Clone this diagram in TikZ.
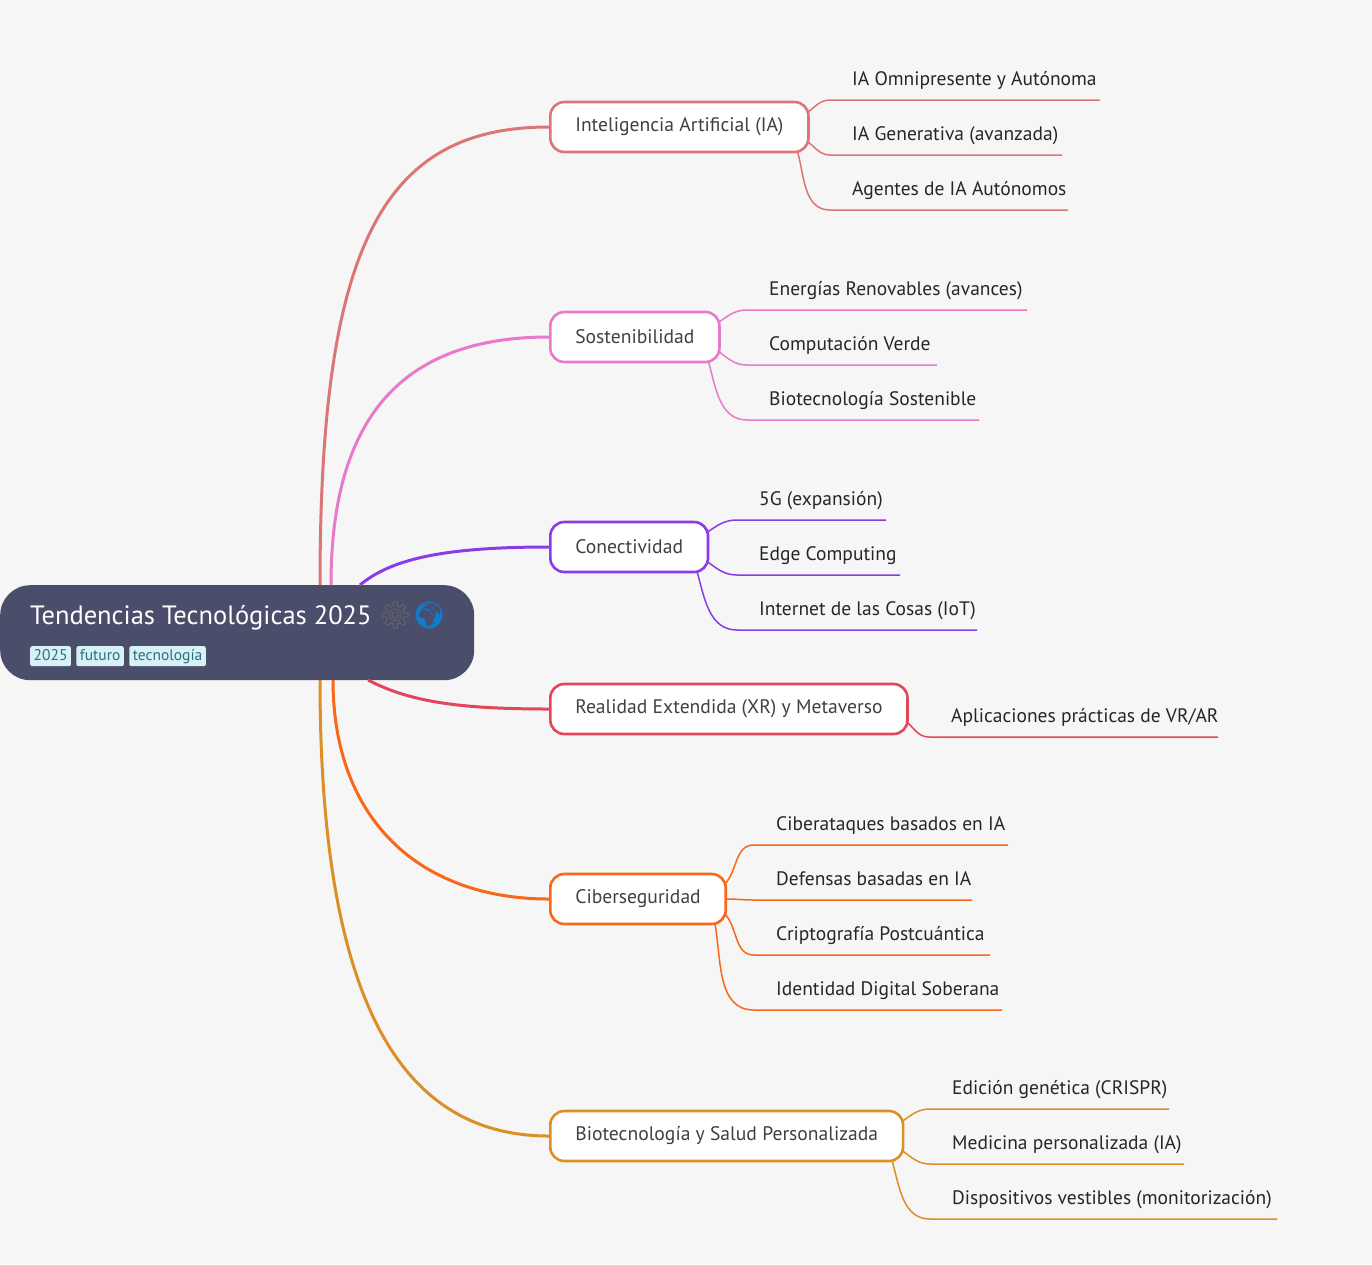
\documentclass[tikz,border=0pt]{standalone}
\usepackage{fontspec}
\setmainfont{PT Sans}
\newfontfamily\emojifont{Noto Emoji}
\usetikzlibrary{positioning}

\definecolor{bgc}{HTML}{F6F6F6}
\definecolor{rootc}{HTML}{4B4E6B}
\definecolor{tagc}{HTML}{D6F1F8}
\definecolor{tagtxt}{HTML}{2E6E80}
\definecolor{iac}{HTML}{DB7676}
\definecolor{sosc}{HTML}{E879CB}
\definecolor{conc}{HTML}{8B3BE8}
\definecolor{xrc}{HTML}{E2465A}
\definecolor{cibc}{HTML}{F9681A}
\definecolor{bioc}{HTML}{DC8F26}

\begin{document}
\begin{tikzpicture}[
    x=1pt, y=-1pt,
    branch/.style={draw=#1, line width=2.6pt, fill=white, rounded corners=14pt,
        minimum height=50pt, inner xsep=25pt, anchor=west, font=\fontsize{19.6}{22}\selectfont,
        text=black!75},
    link/.style={draw=#1, line width=3pt},
    leafline/.style={draw=#1, line width=1.5pt},
    leaf/.style={anchor=base west, inner sep=0pt, font=\fontsize{19.5}{22}\selectfont, text=black!85},
    tag/.style={fill=tagc, text=tagtxt, rounded corners=2pt, inner xsep=3.5pt, inner ysep=2.5pt,
        text height=11.5pt, text depth=3.5pt, font=\fontsize{15.5}{17}\selectfont}
]
\fill[bgc] (0,0) rectangle (1372,1264);
\useasboundingbox (0,0) rectangle (1372,1264);

% === Root ===
\node[fill=rootc, rounded corners=30pt, minimum width=474pt, minimum height=95pt, anchor=north west]
    (root) at (0,585) {};
\node[anchor=base west, inner sep=0pt, text=white, font=\fontsize{26.5}{30}\selectfont]
    (title) at (30,624) {Tendencias Tecnológicas 2025 {\emojifont\textcolor{black!60}{⚙}\textcolor{cyan!60!blue}{🌍}}};
\node[tag, anchor=north west] (t2025) at (30,646) {2025};
\node[tag, right=5pt of t2025] (tfuturo) {futuro};
\node[tag, right=5pt of tfuturo] (ttec) {tecnología};

% === Branches ===
\node[branch=iac] (ia) at (549,127) {Inteligencia Artificial (IA)};
\node[branch=sosc] (sos) at (549,337) {Sostenibilidad};
\node[branch=conc] (con) at (549,547) {Conectividad};
\node[branch=xrc] (xr) at (549,709) {Realidad Extendida (XR) y Metaverso};
\node[branch=cibc] (cib) at (549,899) {Ciberseguridad};
\node[branch=bioc] (bio) at (549,1136) {Biotecnología y Salud Personalizada};

% === Root links ===
\draw[link=iac] (320,585) .. controls (320,250) and (380,127) .. (ia.west);
\draw[link=sosc] (331,585) .. controls (331,420) and (400,337) .. (sos.west);
\draw[link=conc] (360,585) .. controls (390,560) and (440,547) .. (con.west);
\draw[link=xrc] (368,680) .. controls (410,702) and (460,709) .. (xr.west);
\draw[link=cibc] (333,680) .. controls (333,820) and (420,899) .. (cib.west);
\draw[link=bioc] (320,680) .. controls (320,1000) and (400,1136) .. (bio.west);

% === Leaves ===
\foreach \y/\e/\t [count=\i] in {100/1100/{IA Omnipresente y Autónoma}, 155/1062/{IA Generativa (avanzada)}, 210/1068/{Agentes de IA Autónomos}}{
    \node[leaf] (ia-\i) at (852,\y-15) {\t};
    \coordinate (ia-s\i) at (830,\y);
}
\draw[leafline=iac] (ia.east) ++(-3,-14) to[out=35, in=180] (ia-s1) -- (1100,100);
\draw[leafline=iac] (ia.east) ++(-3,14) to[out=-35, in=180] (ia-s2) -- (1062,155);
\draw[leafline=iac] (ia.south east) ++(-12,-1) to[out=-75, in=180] (ia-s3) -- (1068,210);

\foreach \y/\e/\t [count=\i] in {310/1027/{Energías Renovables (avances)}, 365/937/{Computación Verde}, 420/979/{Biotecnología Sostenible}}{
    \node[leaf] (sos-\i) at (769,\y-15) {\t};
    \coordinate (sos-s\i) at (747,\y);
}
\draw[leafline=sosc] (sos.east) ++(-3,-14) to[out=35, in=180] (sos-s1) -- (1027,310);
\draw[leafline=sosc] (sos.east) ++(-3,14) to[out=-35, in=180] (sos-s2) -- (937,365);
\draw[leafline=sosc] (sos.south east) ++(-12,-1) to[out=-75, in=180] (sos-s3) -- (979,420);

\foreach \y/\e/\t [count=\i] in {520/886/{5G (expansión)}, 575/900/{Edge Computing}, 630/977/{Internet de las Cosas (IoT)}}{
    \node[leaf] (con-\i) at (759,\y-15) {\t};
    \coordinate (con-s\i) at (737,\y);
}
\draw[leafline=conc] (con.east) ++(-3,-14) to[out=35, in=180] (con-s1) -- (886,520);
\draw[leafline=conc] (con.east) ++(-3,14) to[out=-35, in=180] (con-s2) -- (900,575);
\draw[leafline=conc] (con.south east) ++(-12,-1) to[out=-75, in=180] (con-s3) -- (977,630);

\node[leaf] (xr-1) at (951,722) {Aplicaciones prácticas de VR/AR};
\coordinate (xr-s1) at (929,737);
\draw[leafline=xrc] (xr.east) ++(-3,12) to[out=-40, in=180] (xr-s1) -- (1218,737);

\foreach \y/\e/\t [count=\i] in {845/1008/{Ciberataques basados en IA}, 900/972/{Defensas basadas en IA}, 955/990/{Criptografía Postcuántica}, 1010/1002/{Identidad Digital Soberana}}{
    \node[leaf] (cib-\i) at (776,\y-15) {\t};
    \coordinate (cib-s\i) at (754,\y);
    \coordinate (cib-e\i) at (\e,\y);
}
\draw[leafline=cibc] (cib.east) ++(-3,-14) to[out=45, in=180] (cib-s1) -- (cib-e1);
\draw[leafline=cibc] (cib.east) ++(0,0) to[out=0, in=180] (cib-s2) -- (cib-e2);
\draw[leafline=cibc] (cib.east) ++(-3,14) to[out=-45, in=180] (cib-s3) -- (cib-e3);
\draw[leafline=cibc] (cib.south east) ++(-12,-1) to[out=-80, in=180] (cib-s4) -- (cib-e4);

\foreach \y/\e/\t [count=\i] in {1109/1169/{Edición genética (CRISPR)}, 1164/1184/{Medicina personalizada (IA)}, 1219/1277/{Dispositivos vestibles (monitorización)}}{
    \node[leaf] (bio-\i) at (952,\y-15) {\t};
    \coordinate (bio-s\i) at (930,\y);
}
\draw[leafline=bioc] (bio.east) ++(-3,-14) to[out=35, in=180] (bio-s1) -- (1169,1109);
\draw[leafline=bioc] (bio.east) ++(-3,14) to[out=-35, in=180] (bio-s2) -- (1184,1164);
\draw[leafline=bioc] (bio.south east) ++(-12,-1) to[out=-75, in=180] (bio-s3) -- (1277,1219);

\end{tikzpicture}
\end{document}
